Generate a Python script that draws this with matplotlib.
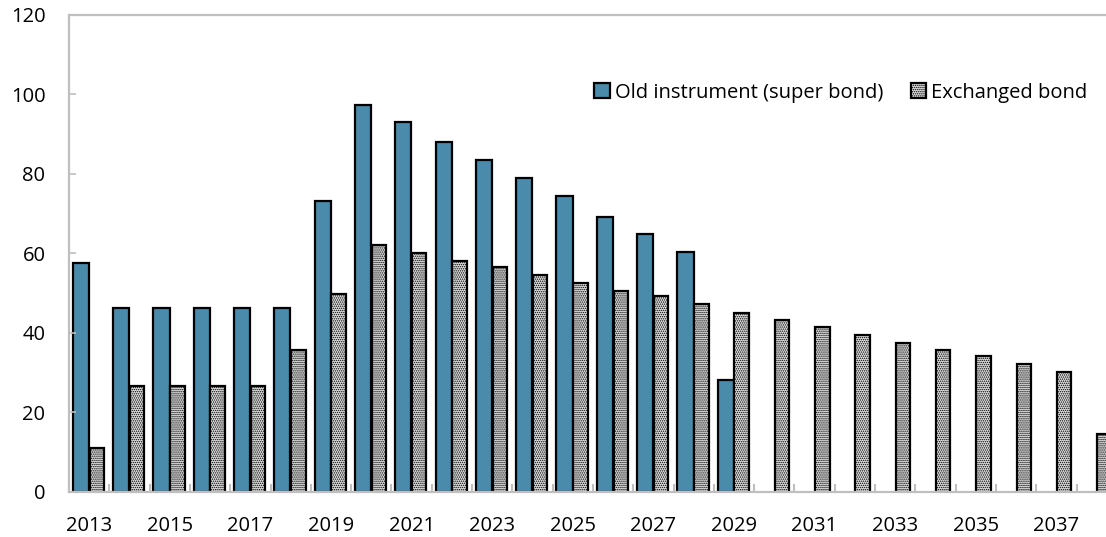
import numpy as np
import matplotlib.pyplot as plt
from matplotlib.ticker import FixedLocator

years = list(range(2013, 2039))
old_bond = [57.7, 46.2, 46.2, 46.2, 46.2, 46.2, 73.3, 97.4, 93.0, 88.0, 83.4, 79.0,
            74.4, 69.3, 64.8, 60.3, 28.2, 0, 0, 0, 0, 0, 0, 0, 0, 0]
exchanged = [11.0, 26.6, 26.6, 26.6, 26.6, 35.6, 49.7, 62.2, 60.2, 58.2, 56.7, 54.7,
             52.6, 50.6, 49.2, 47.2, 45.1, 43.2, 41.6, 39.6, 37.6, 35.6, 34.1, 32.1, 30.1, 14.6]

plt.rcParams['font.family'] = ['Open Sans', 'DejaVu Sans']
plt.rcParams['hatch.color'] = '#7a7a7a'
plt.rcParams['hatch.linewidth'] = 0.7

fig = plt.figure(figsize=(11.06, 5.37), dpi=100)
ax = fig.add_axes([0.0624, 0.0838, 0.9376, 0.8883])

x = np.arange(len(years))
w = 0.4
old_vals = np.array(old_bond, dtype=float)
mask = old_vals > 0
ax.bar(x[mask] - 0.205, old_vals[mask], w, color='#4a8aab', edgecolor='black',
       linewidth=1.6, label='Old instrument (super bond)')
ax.bar(x + 0.19, exchanged, 0.36, color='#e0e0e0', edgecolor='black',
       linewidth=1.6, hatch='........', label='Exchanged bond')

ax.set_ylim(0, 120)
ax.set_xlim(-0.5, 25.23)
ax.set_yticks(range(0, 121, 20))
ax.tick_params(axis='y', direction='in', length=5, width=1.2, color='#bfbfbf',
               labelsize=14.5, pad=17)

ax.set_xticks(x[::2])
ax.set_xticklabels([str(y) for y in years[::2]])
ax.xaxis.set_minor_locator(FixedLocator(np.arange(-0.5, 26, 1)))
ax.tick_params(axis='x', which='major', length=0, labelsize=14.5, pad=17)
ax.tick_params(axis='x', which='minor', direction='in', length=6, width=1.5,
               color='#bfbfbf')

for s in ['left', 'bottom', 'top']:
    ax.spines[s].set_color('#bfbfbf')
    ax.spines[s].set_linewidth(1.6)
ax.spines['right'].set_visible(False)

ax.legend(loc='upper right', bbox_to_anchor=(0.99, 0.875), ncol=2, frameon=False,
          fontsize=14.5, handlelength=0.75, handleheight=0.75, handletextpad=0.25,
          columnspacing=1.4, borderaxespad=0)

fig.savefig('out.png', dpi=100)
